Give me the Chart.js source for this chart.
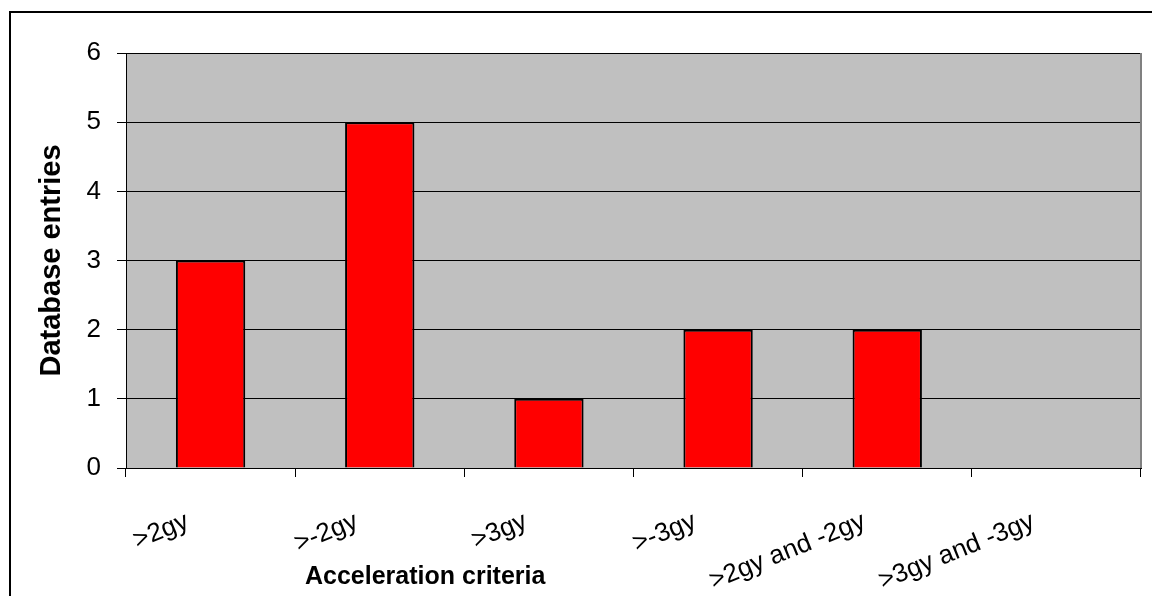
<!DOCTYPE html>
<html>
<head>
<meta charset="utf-8">
<script src="https://cdn.jsdelivr.net/npm/chart.js@4/dist/chart.umd.min.js"></script>
<style>
  html, body { margin: 0; padding: 0; background: #fff; }
  #wrap { width: 1152px; height: 596px; position: relative; }
  canvas { display: block; }
</style>
</head>
<body>
<div id="wrap"><canvas id="c" width="1152" height="596"></canvas></div>
<script>
const categories = ['>2gy', '>-2gy', '>3gy', '>-3gy', '>2gy and -2gy', '>3gy and -3gy'];
const entries = [3, 5, 1, 2, 2, 0];
const yTicks = [0, 1, 2, 3, 4, 5, 6];
const xTitle = 'Acceleration criteria';
const yTitle = 'Database entries';

const frame = {
  id: 'frame',
  beforeDraw(chart) {
    const ctx = chart.ctx, a = chart.chartArea;
    ctx.save();
    ctx.fillStyle = '#fff';
    ctx.fillRect(0, 0, chart.width, chart.height);
    ctx.strokeStyle = '#000';
    ctx.lineWidth = 2;
    ctx.beginPath();
    ctx.moveTo(10, chart.height + 5);
    ctx.lineTo(10, 12);
    ctx.lineTo(chart.width + 5, 12);
    ctx.stroke();
    ctx.fillStyle = '#C0C0C0';
    ctx.fillRect(a.left, a.top, a.right - a.left, a.bottom - a.top);
    ctx.restore();
  },
  afterDraw(chart) {
    const ctx = chart.ctx, a = chart.chartArea;
    ctx.save();
    ctx.strokeStyle = '#808080';
    ctx.lineWidth = 2;
    ctx.beginPath();
    ctx.moveTo(a.right, a.top);
    ctx.lineTo(a.right, a.bottom);
    ctx.stroke();
    ctx.fillStyle = '#000';
    ctx.font = 'bold 25px Arial, "Liberation Sans", sans-serif';
    ctx.textAlign = 'left';
    ctx.textBaseline = 'alphabetic';
    ctx.fillText(xTitle, 305, 584);
    ctx.restore();
  }
};

new Chart(document.getElementById('c'), {
  type: 'bar',
  data: {
    labels: categories,
    datasets: [{
      data: entries,
      backgroundColor: '#FF0000',
      borderColor: '#000',
      borderWidth: 2,
      categoryPercentage: 1,
      barPercentage: 0.41
    }]
  },
  options: {
    responsive: false,
    devicePixelRatio: 1,
    animation: false,
    layout: { padding: { left: 10, top: 53, right: 11, bottom: 0 } },
    plugins: { legend: { display: false }, tooltip: { enabled: false } },
    scales: {
      x: {
        afterFit(s) { s.height = 128; },
        grid: { offset: true, drawOnChartArea: false, drawTicks: true, tickLength: 9, color: '#000', lineWidth: 1 },
        border: { display: true, color: '#000', width: 1 },
        ticks: {
          color: '#000',
          font: { family: 'Arial, "Liberation Sans", sans-serif', size: 26 },
          minRotation: 22, maxRotation: 22,
          padding: 29,
          labelOffset: -23,
          autoSkip: false
        }
      },
      y: {
        min: 0, max: 6,
        afterFit(s) { s.width = 116; },
        afterBuildTicks(s) { s.ticks = yTicks.map(v => ({ value: v })); },
        grid: { color: '#000', lineWidth: 1, drawTicks: true, tickLength: 9 },
        border: { display: true, color: '#000', width: 1 },
        ticks: {
          color: '#000',
          font: { family: 'Arial, "Liberation Sans", sans-serif', size: 26 },
          padding: 16
        },
        title: {
          display: true,
          text: yTitle,
          color: '#000',
          font: { family: 'Arial, "Liberation Sans", sans-serif', size: 29, weight: 'bold' },
          padding: { top: 25, bottom: 0 }
        }
      }
    }
  },
  plugins: [frame]
});
</script>
</body>
</html>
